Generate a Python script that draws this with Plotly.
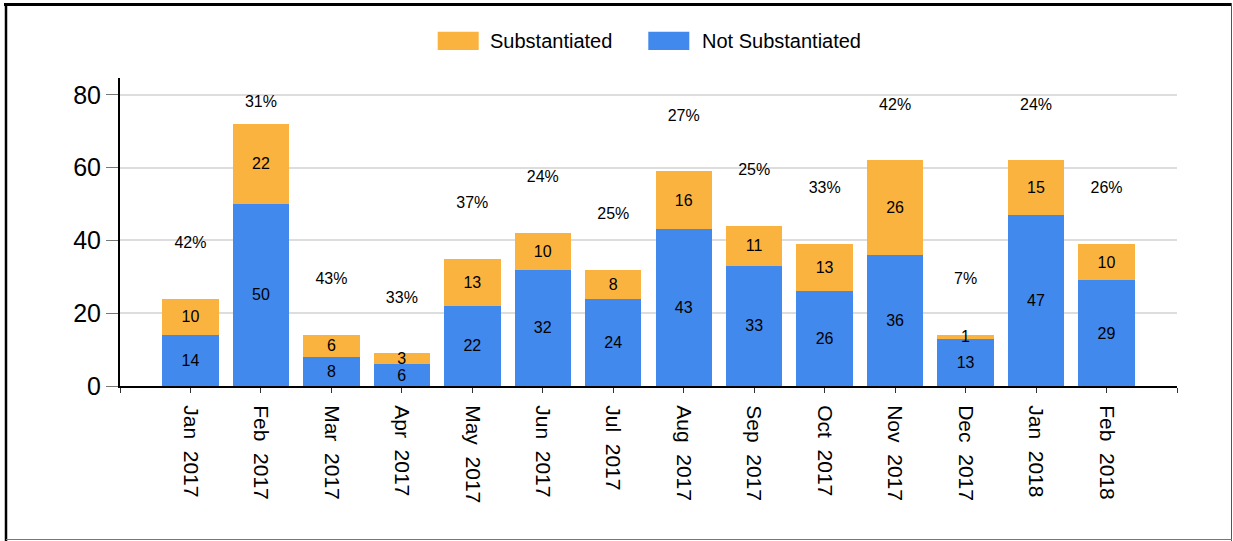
import plotly.graph_objects as go

months = ["Jan 2017", "Feb 2017", "Mar 2017", "Apr 2017", "May 2017", "Jun 2017", "Jul 2017",
          "Aug 2017", "Sep 2017", "Oct 2017", "Nov 2017", "Dec 2017", "Jan 2018", "Feb 2018"]
not_substantiated = [14, 50, 8, 6, 22, 32, 24, 43, 33, 26, 36, 13, 47, 29]
substantiated = [10, 22, 6, 3, 13, 10, 8, 16, 11, 13, 26, 1, 15, 10]

BLUE = "#4289EE"
ORANGE = "#FBB340"
FONT = "Arial, 'Liberation Sans', sans-serif"

W, H = 1233, 541
L, R, T, B = 120, 1177, 78, 386
YMAX = 84.6

def px(x):
    return (x - L) / (R - L)

def py(y):
    return (B - y) / (B - T)

idx = list(range(len(months)))
totals = [a + b for a, b in zip(not_substantiated, substantiated)]
pct_text = [f"{round(100 * s / t)}%" for s, t in zip(substantiated, totals)]
pct_y = [min(t + 15, 77.7) for t in totals]

fig = go.Figure()
fig.add_trace(go.Bar(
    x=idx, y=not_substantiated, name="Not Substantiated", marker=dict(color=BLUE, line=dict(width=0)),
    text=[str(v) for v in not_substantiated], textposition="inside", insidetextanchor="middle",
    textangle=0, constraintext="none", textfont=dict(size=16, color="black", family=FONT), width=0.8,
    showlegend=False, hoverinfo="skip"))
fig.add_trace(go.Bar(
    x=idx, y=substantiated, name="Substantiated", marker=dict(color=ORANGE, line=dict(width=0)),
    text=[str(v) for v in substantiated], textposition="inside", insidetextanchor="middle",
    textangle=0, constraintext="none", textfont=dict(size=16, color="black", family=FONT), width=0.8,
    showlegend=False, hoverinfo="skip"))
fig.add_trace(go.Scatter(
    x=idx, y=pct_y, mode="text", text=pct_text, textposition="middle center",
    textfont=dict(size=16, color="black", family=FONT), showlegend=False, hoverinfo="skip"))

tickvals = [-1] + idx + [len(months)]
ticktext = [""] + [m.replace(" ", "\u00a0\u00a0") for m in months] + [""]

fig.update_layout(
    width=W, height=H, barmode="stack",
    margin=dict(l=L, r=W - R, t=T, b=H - B, pad=0),
    paper_bgcolor="white", plot_bgcolor="white",
    font=dict(family=FONT, color="black"),
    xaxis=dict(range=[-1, len(months)], tickvals=tickvals, ticktext=ticktext, tickangle=90,
               showgrid=False, zeroline=False, showline=True, linecolor="black", linewidth=2,
               ticks="outside", ticklen=5, tickcolor="#333", tickwidth=1, ticklabelstandoff=8,
               tickfont=dict(size=21, color="black", family=FONT)),
    yaxis=dict(range=[0, YMAX], tickvals=[0, 20, 40, 60, 80], showgrid=True, gridcolor="#DDDDDD",
               gridwidth=2, zeroline=False, showline=True, linecolor="black", linewidth=2,
               ticks="outside", ticklen=12, tickcolor="#777", tickwidth=1, ticklabelstandoff=0,
               tickfont=dict(size=25, color="black", family=FONT)),
)

shapes = []
# legend swatches
shapes.append(dict(type="rect", xref="paper", yref="paper", x0=px(437.7), x1=px(478.7), y0=py(50), y1=py(31.7),
                   fillcolor=ORANGE, line=dict(width=0)))
shapes.append(dict(type="rect", xref="paper", yref="paper", x0=px(648.3), x1=px(689.3), y0=py(50), y1=py(31.7),
                   fillcolor=BLUE, line=dict(width=0)))
# frame
shapes.append(dict(type="line", xref="paper", yref="paper", x0=px(4), x1=px(1232), y0=py(4.5), y1=py(4.5),
                   line=dict(color="black", width=3)))
shapes.append(dict(type="line", xref="paper", yref="paper", x0=px(6), x1=px(6), y0=py(3), y1=py(541),
                   line=dict(color="black", width=2.5)))
shapes.append(dict(type="line", xref="paper", yref="paper", x0=px(1231.5), x1=px(1231.5), y0=py(3), y1=py(541),
                   line=dict(color="#555", width=1)))
shapes.append(dict(type="line", xref="paper", yref="paper", x0=px(6), x1=px(1232), y0=py(539.5), y1=py(539.5),
                   line=dict(color="#777", width=1)))
fig.update_layout(shapes=shapes)

fig.add_annotation(x=px(488), y=py(41), xref="paper", yref="paper", text="Substantiated", showarrow=False,
                   xanchor="left", yanchor="middle", font=dict(size=20, color="black", family=FONT))
fig.add_annotation(x=px(700), y=py(41), xref="paper", yref="paper", text="Not Substantiated", showarrow=False,
                   xanchor="left", yanchor="middle", font=dict(size=20, color="black", family=FONT))

fig.write_html("out.html", config={"displayModeBar": False},
               post_script="document.body.style.margin='0';document.body.style.overflow='hidden';")
